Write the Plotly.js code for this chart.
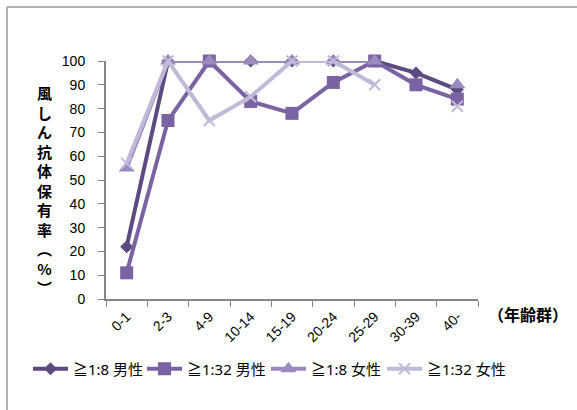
<!DOCTYPE html>
<html><head><meta charset="utf-8">
<script src="https://cdn.plot.ly/plotly-3.0.1.min.js"></script>
<style>html,body{margin:0;padding:0;background:#fff}#chart{width:577px;height:410px}</style>
</head><body><div id="chart"></div>
<script>
const categories = ['0-1','2-3','4-9','10-14','15-19','20-24','25-29','30-39','40-'];
const seriesNames = ['≧1:8 男性','≧1:32 男性','≧1:8 女性','≧1:32 女性'];
const male8  = [22, 100, 100, 100, 100, 100, 100, 95, 88];
const male32 = [11, 75, 100, 83, 78, 91, 100, 90, 84];
const female8  = [55, 100, 100, 100, 100, 100, 100, null, 90];
const female32 = [57, 100, 75, 85, 100, 100, 90, null, 81];
const yTitleChars = ['風','し','ん','抗','体','保','有','率','︵','%','︶'];

const colors = ['#5c4a80','#7b62a3','#9a8abd','#c2b8d8'];
const symbols = ['diamond','square','triangle-up','x-thin'];
const sizes = [10, 13, 14, 11];
const data = [male8, male32, female8, female32];
const legendIds = ['legend','legend2','legend3','legend4'];
const legendX = [28, 142, 266, 382];

const traces = data.map((vals, i) => ({
  type: 'scatter', mode: 'lines+markers',
  x: categories, y: vals, name: seriesNames[i], legend: legendIds[i],
  line: {color: colors[i], width: 4},
  marker: {symbol: symbols[i], size: sizes[i], color: colors[i],
           line: {color: colors[i], width: i === 3 ? 2 : 0}},
  cliponaxis: false, connectgaps: false
}));
const L = 106, R = 478, T = 61, B = 299;
const px2x = p => (p - L) / (R - L);
const px2y = p => (B - p) / (B - T);
const legFont = {size: 15, color: '#000', family: '"Noto Sans", "Noto Sans CJK JP", sans-serif'};

const layout = {
  width: 577, height: 410,
  margin: {l: L, r: 577 - R, t: T, b: 410 - B},
  paper_bgcolor: '#fff', plot_bgcolor: '#fff',
  font: {family: '"Noto Sans CJK JP", "Noto Sans", sans-serif', color: '#000'},
  showlegend: true,
  xaxis: {type: 'category', range: [-0.5, 8.5], showline: true, linecolor: '#868686', linewidth: 2,
          ticks: 'outside', tickson: 'boundaries', ticklen: 6, tickcolor: '#868686', tickwidth: 1,
          tickangle: -45, ticklabelstandoff: 2,
          tickfont: {size: 14, family: '"Liberation Sans", sans-serif', color: '#000'},
          showgrid: false, zeroline: false, fixedrange: true},
  yaxis: {range: [0, 100], dtick: 10, showline: true, linecolor: '#868686', linewidth: 2,
          ticks: 'outside', ticklen: 6, tickcolor: '#868686', tickwidth: 1, ticklabelstandoff: 10,
          tickfont: {size: 14, family: '"Liberation Sans", sans-serif', color: '#000'},
          showgrid: false, zeroline: false, fixedrange: true},
  annotations: [
    {xref: 'paper', yref: 'paper', x: px2x(44), y: px2y(190), xanchor: 'center', yanchor: 'middle',
     text: '<b>' + yTitleChars.join('<br>') + '</b>', showarrow: false,
     font: {size: 15, family: '"Noto Sans CJK JP", sans-serif', color: '#000'}},
    {xref: 'paper', yref: 'paper', x: px2x(528), y: px2y(314), xanchor: 'center', yanchor: 'middle',
     text: '<b>（年齢群）</b>', showarrow: false,
     font: {size: 16, family: '"Noto Sans CJK JP", sans-serif', color: '#000'}}
  ],
  shapes: [
    {type: 'line', xref: 'paper', yref: 'paper', x0: px2x(7), x1: px2x(7), y0: px2y(7), y1: px2y(420),
     line: {color: '#b0b0b0', width: 2}},
    {type: 'line', xref: 'paper', yref: 'paper', x0: px2x(7), x1: px2x(590), y0: px2y(7), y1: px2y(7),
     line: {color: '#b0b0b0', width: 2}}
  ]
};
legendIds.forEach((id, i) => {
  layout[id] = {orientation: 'h', xref: 'container', yref: 'container',
    x: legendX[i] / 577, y: 1 - 369 / 410, xanchor: 'left', yanchor: 'middle',
    font: legFont, itemwidth: 35, bgcolor: 'rgba(0,0,0,0)', borderwidth: 0};
});
Plotly.newPlot('chart', traces, layout, {displayModeBar: false, staticPlot: true});
</script></body></html>
